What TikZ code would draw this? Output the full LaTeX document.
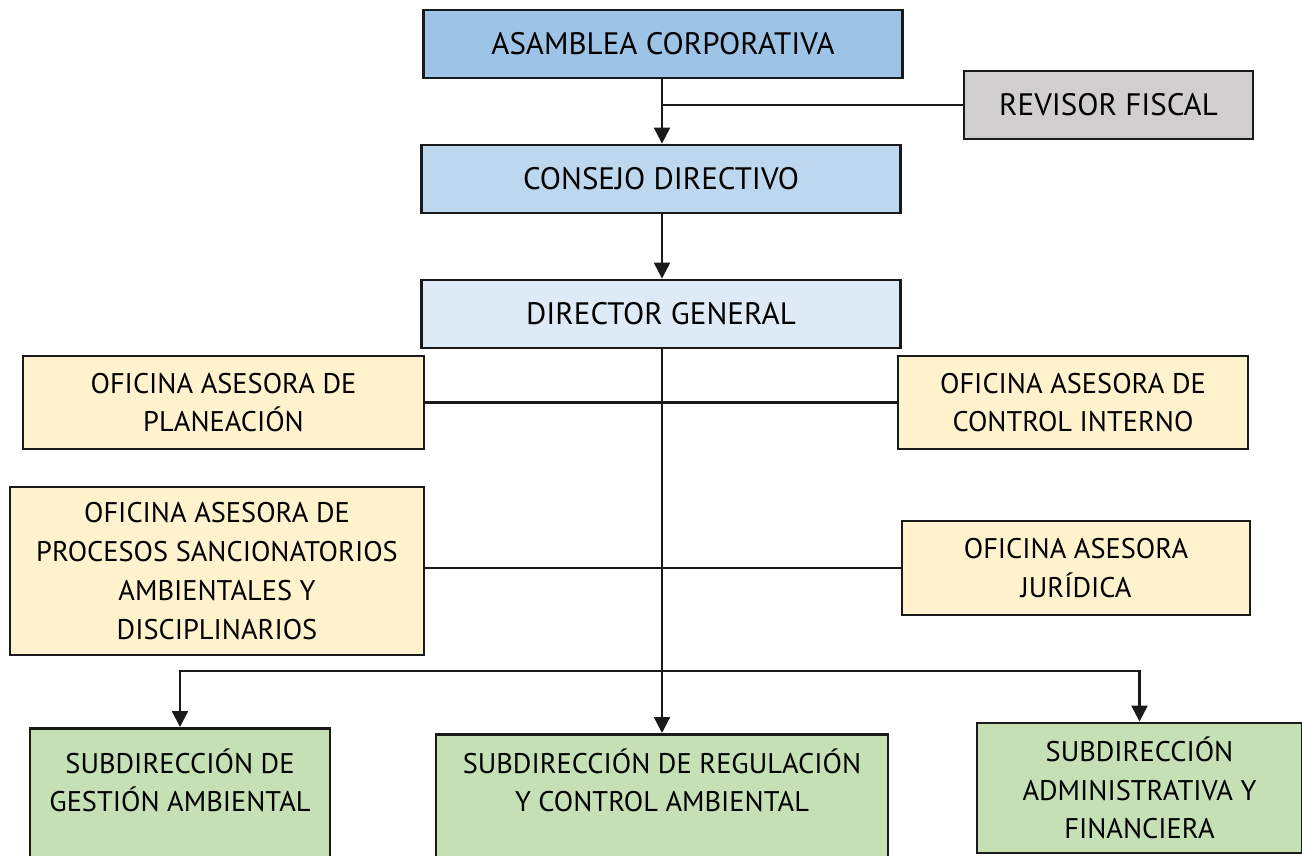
\documentclass[tikz,border=0pt]{standalone}
\usepackage{fontspec}
\setmainfont{PT Sans}
\usetikzlibrary{arrows.meta}
\definecolor{cAsam}{HTML}{9DC3E6}
\definecolor{cCons}{HTML}{BDD7EE}
\definecolor{cDir}{HTML}{DEEBF7}
\definecolor{cRev}{HTML}{D0CECE}
\definecolor{cOfi}{HTML}{FFF2CC}
\definecolor{cSub}{HTML}{C5E0B4}
\definecolor{cLine}{HTML}{1A1A1A}
\tikzset{
  box/.style={draw=cLine, line width=2.8pt, rectangle, inner sep=0pt, align=center,
    text=black, font=\fontsize{28.4}{38.8}\selectfont},
  bigtext/.style={font=\fontsize{31}{38.8}\selectfont},
  conn/.style={draw=cLine, line width=2.2pt},
  arr/.style={conn, -{Triangle[length=16pt,width=16pt]}},
}
\begin{document}
\begin{tikzpicture}[x=1pt,y=-1pt]
\useasboundingbox (0,0) rectangle (1302,856);
\node[box, bigtext, fill=cAsam, minimum width=479pt, minimum height=68pt] (asam) at (663,44) {ASAMBLEA CORPORATIVA};
\node[box, bigtext, fill=cRev, minimum width=289pt, minimum height=68pt] (rev) at (1108.5,105) {REVISOR FISCAL};
\node[box, bigtext, fill=cCons, minimum width=479pt, minimum height=68pt] (cons) at (661,179) {CONSEJO DIRECTIVO};
\node[box, bigtext, fill=cDir, minimum width=479pt, minimum height=68pt] (dir) at (661,314) {DIRECTOR GENERAL};
\node[box, fill=cOfi, minimum width=401pt, minimum height=93pt] (plan) at (223.5,402.5) {OFICINA ASESORA DE\\PLANEACIÓN};
\node[box, fill=cOfi, minimum width=350pt, minimum height=93pt] (ctrl) at (1073,402.5) {OFICINA ASESORA DE\\CONTROL INTERNO};
\node[box, fill=cOfi, minimum width=414pt, minimum height=168pt] (proc) at (217,571) {OFICINA ASESORA DE\\PROCESOS SANCIONATORIOS\\AMBIENTALES Y\\DISCIPLINARIOS};
\node[box, fill=cOfi, minimum width=348pt, minimum height=94pt] (jur) at (1076,568) {OFICINA ASESORA\\JURÍDICA};
\node[box, fill=cSub, anchor=north, inner ysep=20pt, minimum width=300pt] (gest) at (180,727)
  {\parbox[t][150pt][t]{290pt}{\centering SUBDIRECCIÓN DE\\GESTIÓN AMBIENTAL}};
\node[box, fill=cSub, anchor=north, inner ysep=14pt, minimum width=452pt] (reg) at (662,733)
  {\parbox[t][150pt][t]{440pt}{\centering SUBDIRECCIÓN DE REGULACIÓN\\Y CONTROL AMBIENTAL}};
\node[box, fill=cSub, minimum width=325pt, minimum height=130pt] (adm) at (1139.5,788) {SUBDIRECCIÓN\\ADMINISTRATIVA Y\\FINANCIERA};
\coordinate (bus) at (662,671);
\draw[arr] (asam.south -| 662,0) -- (cons.north -| 662,0);
\draw[conn] (rev.west) -- (rev.west -| 662,0);
\draw[arr] (cons.south -| 662,0) -- (dir.north -| 662,0);
\draw[arr] (dir.south -| 662,0) -- (reg.north);
\draw[conn] (plan.east) -- (ctrl.west);
\draw[conn] (proc.east |- jur.west) -- (jur.west);
\draw[arr] (bus) -| (gest.north);
\draw[arr] (bus) -| (adm.north);
\end{tikzpicture}
\end{document}
